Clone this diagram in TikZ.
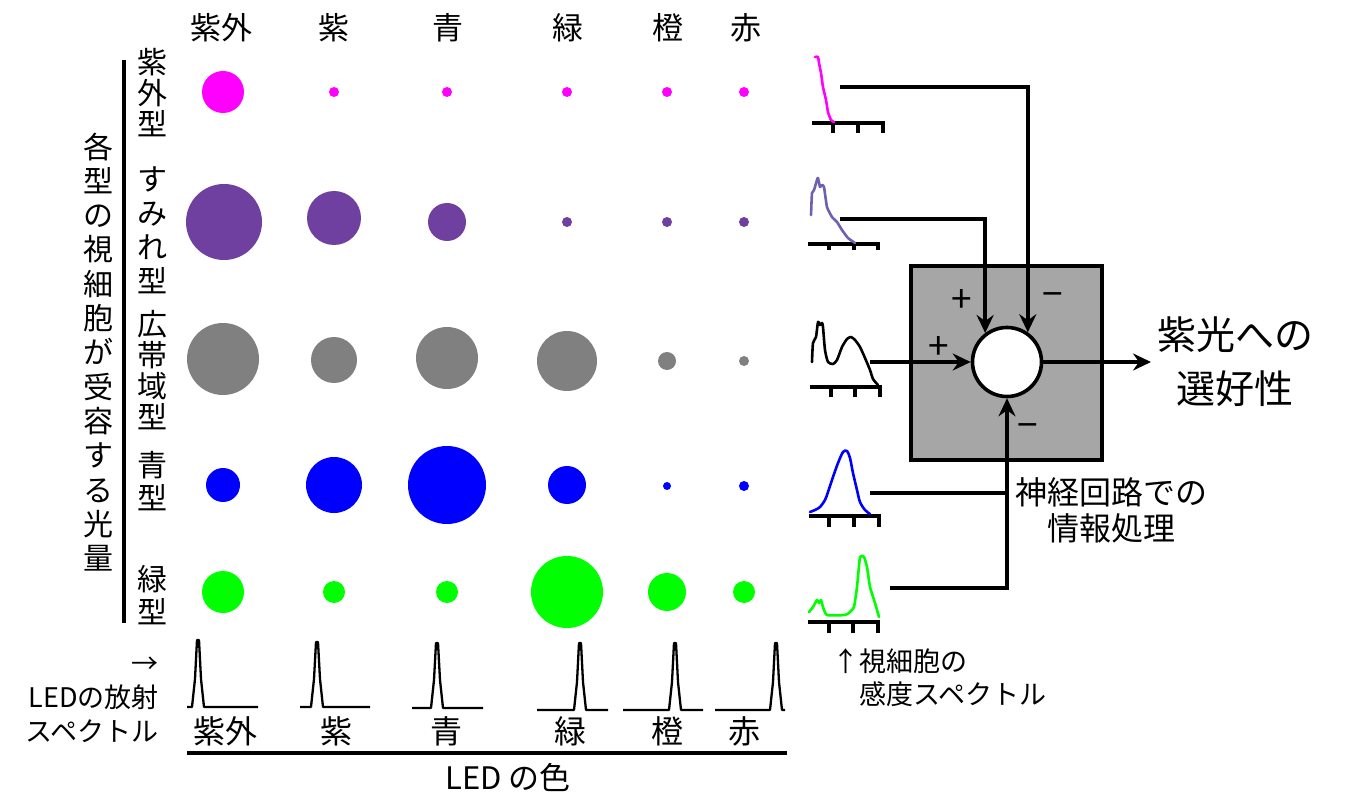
\documentclass[tikz,border=0pt]{standalone}
\usepackage{fontspec}
\setmainfont{Noto Sans CJK JP}
\usetikzlibrary{arrows.meta}
\definecolor{uvc}{HTML}{FF00FF}
\definecolor{vio}{HTML}{7040A0}
\definecolor{vioc}{HTML}{7060B0}
\definecolor{gry}{HTML}{808080}
\definecolor{blu}{HTML}{0000FF}
\definecolor{grn}{HTML}{00FF00}
\definecolor{boxg}{HTML}{A6A6A6}
\begin{document}
\begin{tikzpicture}[x=1pt,y=-1pt,
  hdr/.style={font=\fontsize{31}{31}\selectfont, inner sep=0pt},
  vlbl/.style={font=\fontsize{30}{#1}\selectfont, align=center, inner sep=0pt},
  conn/.style={line width=3.6pt},
  axisln/.style={line width=3.4pt},
  curve/.style={line width=2.6pt, line join=round, line cap=round},
  spike/.style={line width=2.3pt, line join=round},
  tip/.tip={Stealth[length=18pt,width=17pt,inset=6pt]},
  sgn/.style={font=\fontsize{37}{37}\selectfont, inner sep=0pt}]
\useasboundingbox (0,0) rectangle (1369,810);
\fill[white] (0,0) rectangle (1369,810);

% column headers
\node[hdr] (h1) at (221,28) {紫外};
\node[hdr] (h2) at (334,28) {紫};
\node[hdr] (h3) at (448,28) {青};
\node[hdr] (h4) at (568,28) {緑};
\node[hdr] (h5) at (668,28) {橙};
\node[hdr] (h6) at (746,28) {赤};

% left labels
\node[vlbl=34.3] (big) at (98,352) {各\\型\\の\\視\\細\\胞\\が\\受\\容\\す\\る\\光\\量};
\draw[conn] (124,60) -- (124,623);
\node[vlbl=31] (t1) at (152,93) {紫\\外\\型};
\node[vlbl=34] (t2) at (152,230) {す\\み\\れ\\型};
\node[vlbl=31] (t3) at (152,370) {広\\帯\\域\\型};
\node[vlbl=33] (t4) at (152,481) {青\\型};
\node[vlbl=33] (t5) at (152,595) {緑\\型};

% dots row 1 (UV type)
\fill[uvc] (223,92) circle (21pt);
\foreach \x in {334,447,567,667,744} \fill[uvc] (\x,92) circle (5pt);
% row 2 (violet)
\fill[vio] (224,222) circle (38pt);
\fill[vio] (334,218) circle (27pt);
\fill[vio] (447,222) circle (19pt);
\foreach \x in {567,667,744} \fill[vio] (\x,222) circle (5pt);
% row 3 (broadband)
\fill[gry] (223,359) circle (36pt);
\fill[gry] (334,360) circle (23pt);
\fill[gry] (447,358) circle (31pt);
\fill[gry] (567,361) circle (30pt);
\fill[gry] (667,361) circle (9pt);
\fill[gry] (744,361) circle (5pt);
% row 4 (blue)
\fill[blu] (223,485) circle (17pt);
\fill[blu] (334,485) circle (28pt);
\fill[blu] (447,485) circle (39pt);
\fill[blu] (567,485) circle (19pt);
\fill[blu] (667,486) circle (4pt);
\fill[blu] (744,486) circle (5pt);
% row 5 (green)
\fill[grn] (223,592) circle (21pt);
\fill[grn] (334,592) circle (11pt);
\fill[grn] (447,592) circle (11pt);
\fill[grn] (567,592) circle (36pt);
\fill[grn] (667,592) circle (19pt);
\fill[grn] (744,592) circle (11pt);

% LED emission spectra
\foreach \a/\b/\p/\t/\y in {187/258/198/640/707, 300/370/317/642/707, 412/483/437/643/708, 537/608/580/643/710, 623/703/675/643/710, 715/785/776/643/710}{
  \draw[spike] (\a,\y) -- (\p-6,\y) -- (\p-3,\y-28) -- (\p-1,\t) -- (\p+1,\t) -- (\p+3,\y-28) -- (\p+6,\y) -- (\b,\y);
}
\node[font=\fontsize{27}{34}\selectfont, align=right, inner sep=0pt, anchor=east] (ledl) at (159,700) {→\\LEDの放射\\スペクトル};

% bottom labels
\node[hdr,font=\fontsize{32}{32}\selectfont] (b1) at (225,731) {紫外};
\node[hdr,font=\fontsize{32}{32}\selectfont] (b2) at (336,731) {紫};
\node[hdr,font=\fontsize{32}{32}\selectfont] (b3) at (446,731) {青};
\node[hdr,font=\fontsize{32}{32}\selectfont] (b4) at (570,731) {緑};
\node[hdr,font=\fontsize{32}{32}\selectfont] (b5) at (667,731) {橙};
\node[hdr,font=\fontsize{32}{32}\selectfont] (b6) at (744,731) {赤};
\draw[conn] (187,753) -- (787,753);
\node[hdr,font=\fontsize{31}{31}\selectfont] (ledc) at (508,777) {LED の色};

% receptor sensitivity spectra
% plot 1 UV
\draw[axisln] (812,123) -- (883,123) -- (883,133) (833,123) -- (833,133) (858,123) -- (858,133);
\draw[curve,uvc] plot[smooth,tension=0.4] coordinates {(815,57) (818,57) (819,63) (821,73) (823,87) (826,100) (828,112) (831,120) (834,122)};
% plot 2 violet
\draw[axisln] (808,244) -- (878,244) -- (878,250) (829,244) -- (829,250) (854,244) -- (854,250);
\draw[curve,vioc] plot[smooth,tension=0.3] coordinates {(811,215) (812,193) (814,190) (817,180) (818,178) (820,187) (822,185) (824,187) (827,207) (832,217) (837,222) (842,230) (848,238) (855,243)};
% plot 3 broadband
\draw[axisln] (810,387) -- (880,387) -- (880,397) (831,387) -- (831,397) (855,387) -- (855,397);
\draw[curve,black] plot[smooth,tension=0.4] coordinates {(812,362) (813,343) (816,337) (818,322) (820,325) (822,323) (823,327) (825,350) (828,362) (833,364) (837,360) (842,347) (847,339) (851,337) (855,340) (860,347) (865,358) (870,370) (873,379) (878,385)};
% plot 4 blue
\draw[axisln] (809,516) -- (879,516) -- (879,527) (829,516) -- (829,527) (854,516) -- (854,527);
\draw[curve,blu] plot[smooth,tension=0.5] coordinates {(810,512) (815,510) (820,507) (825,500) (828,492) (833,477) (838,463) (843,452) (847,451) (850,458) (853,473) (857,490) (860,502) (865,510) (870,514)};
% plot 5 green
\draw[axisln] (808,622) -- (878,622) -- (878,633) (829,622) -- (829,633) (853,622) -- (853,633);
\draw[curve,grn] plot[smooth,tension=0.3] coordinates {(809,612) (813,607) (817,600) (819,603) (821,600) (823,607) (827,615) (845,615) (850,612) (854,607) (857,587) (860,557) (864,557) (867,567) (870,587) (875,603) (879,617)};

\node[font=\fontsize{27}{33}\selectfont, align=left, inner sep=0pt, anchor=north west] (sens) at (832,648) {↑視細胞の\\\phantom{↑}感度スペクトル};

% processing box
\node[draw, fill=boxg, line width=3.6pt, minimum width=191pt, minimum height=194pt, inner sep=0pt] (box) at (1006.5,363) {};
\node[draw, circle, fill=white, line width=3.6pt, minimum size=69pt, inner sep=0pt] (cc) at (1007,362) {};

\coordinate (s1) at (840,87);
\coordinate (s2) at (840,219);
\coordinate (s3) at (870,362);
\coordinate (s4) at (870,493);
\coordinate (s5) at (890,588);
\coordinate (out) at (1151,362);

\draw[conn,-tip] (s1) -| (cc.55);
\draw[conn,-tip] (s2) -| (cc.127);
\draw[conn,-tip] (s3) -- (cc.west);
\draw[conn,-tip] (s5) -| (cc.south);
\draw[conn] (s4) -- (s4 -| cc.south);
\draw[conn,-tip] (cc.east) -- (out);

\node[sgn] (p1) at (962,301) {+};
\node[sgn] (p2) at (939,348) {+};
\node[sgn] (m1) at (1053,300) {−};
\node[sgn] (m2) at (1028,431) {−};

\node[font=\fontsize{39}{54}\selectfont, align=center, inner sep=0pt] (pref) at (1235,362) {紫光への\\選好性};
\node[font=\fontsize{32}{36}\selectfont, align=center, inner sep=0pt] (proc) at (1111,510) {神経回路での\\情報処理};
\end{tikzpicture}
\end{document}
